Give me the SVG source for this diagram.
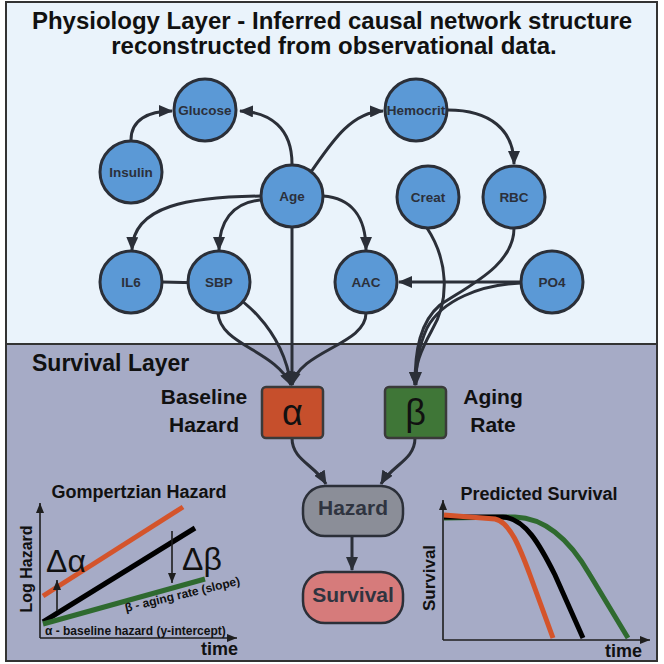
<svg xmlns="http://www.w3.org/2000/svg" width="664" height="664" viewBox="0 0 664 664">
<defs>
<style>
.t{font-family:"Liberation Sans",Arial,sans-serif;font-weight:bold;fill:#111}
.nd circle{fill:#5b99d6;stroke:#2b2f38;stroke-width:3}
.nd text{font-family:"Liberation Sans",Arial,sans-serif;font-weight:bold;font-size:13.5px;fill:#2b303b;text-anchor:middle}
.cn path{fill:none;stroke:#2b2f38;stroke-width:3}
.ax{stroke:#1e1e1e;stroke-width:1.6;fill:none}
.pill text{font-family:"Liberation Sans",Arial,sans-serif;font-weight:bold;font-size:21px;fill:#2f3440;text-anchor:middle}
</style>
<marker id="ah" markerUnits="userSpaceOnUse" markerWidth="14" markerHeight="12" refX="13" refY="6" orient="auto">
<path d="M0,0 L14,6 L0,12 z" fill="#2b2f38"/>
</marker>
<marker id="sa" markerUnits="userSpaceOnUse" markerWidth="10" markerHeight="8" refX="10" refY="4" orient="auto">
<path d="M0,0 L10,4 L0,8 z" fill="#1e1e1e"/>
</marker>
</defs>
<rect x="6" y="2" width="651" height="342" fill="#eaf3fb" stroke="#333" stroke-width="2"/>
<rect x="6" y="344" width="651" height="317" fill="#a6abc6" stroke="#333" stroke-width="2"/>
<text class="t" x="332" y="29" font-size="24" text-anchor="middle">Physiology Layer - Inferred causal network structure</text>
<text class="t" x="334" y="54" font-size="24" text-anchor="middle">reconstructed from observational data.</text>
<text class="t" x="32" y="371" font-size="23">Survival Layer</text>
<g id="connectors" class="cn">
<path d="M131,140 C131,120 148,111 172,111" marker-end="url(#ah)"/>
<path d="M292,164 C292,128 270,112 240,111" marker-end="url(#ah)"/>
<path d="M311,172 C330,145 350,112 383,111" marker-end="url(#ah)"/>
<path d="M448,110 C490,110 514,130 514,164" marker-end="url(#ah)"/>
<path d="M261,196 C190,197 133,205 132,250" marker-end="url(#ah)"/>
<path d="M260,200 C232,203 219,222 219,250" marker-end="url(#ah)"/>
<path d="M323,196 C350,198 366,215 366,250" marker-end="url(#ah)"/>
<path d="M521,282 L399,282" marker-end="url(#ah)"/>
<path d="M162,282 L205,283 C240,290 283,330 291,385" marker-end="url(#ah)"/>
<path d="M218,313 C220,345 275,350 291,385" marker-end="url(#ah)"/>
<path d="M292,227 L292,385" marker-end="url(#ah)"/>
<path d="M366,313 C366,345 300,350 292,385" marker-end="url(#ah)"/>
<path d="M427,228 C448,260 450,300 432,330 C420,352 415,365 415,385" marker-end="url(#ah)"/>
<path d="M514,228 C514,265 470,285 440,305 C420,322 415,350 415,385" marker-end="url(#ah)"/>
<path d="M521,283 C480,285 442,300 427,328 C418,348 416,365 416,385" marker-end="url(#ah)"/>
<path d="M292,438 C292,460 315,465 326,484" marker-end="url(#ah)"/>
<path d="M415,438 C415,460 392,465 381,484" marker-end="url(#ah)"/>
<path d="M352,536 L352,570" marker-end="url(#ah)"/>
</g>
<g id="n-glucose" class="nd"><circle cx="205" cy="110" r="31"/><text x="205" y="115">Glucose</text></g>
<g id="n-hemocrit" class="nd"><circle cx="416" cy="110" r="31"/><text x="416" y="115">Hemocrit</text></g>
<g id="n-insulin" class="nd"><circle cx="131" cy="172" r="31"/><text x="131" y="177">Insulin</text></g>
<g id="n-age" class="nd"><circle cx="292" cy="196" r="31"/><text x="292" y="201">Age</text></g>
<g id="n-creat" class="nd"><circle cx="428" cy="197" r="31"/><text x="428" y="202">Creat</text></g>
<g id="n-rbc" class="nd"><circle cx="514" cy="197" r="31"/><text x="514" y="202">RBC</text></g>
<g id="n-il6" class="nd"><circle cx="131" cy="282" r="31"/><text x="131" y="287">IL6</text></g>
<g id="n-sbp" class="nd"><circle cx="219" cy="282" r="31"/><text x="219" y="287">SBP</text></g>
<g id="n-aac" class="nd"><circle cx="366" cy="282" r="31"/><text x="366" y="287">AAC</text></g>
<g id="n-po4" class="nd"><circle cx="552" cy="282" r="31"/><text x="552" y="287">PO4</text></g>
<g id="n-alpha">
<rect x="262" y="387" width="61" height="51" rx="4" fill="#c64f2c" stroke="#3a3a3a" stroke-width="2.5"/>
<text x="292.5" y="425" font-family="Liberation Sans,Arial,sans-serif" font-size="36" fill="#111" text-anchor="middle">α</text>
<text class="t" x="204" y="404" font-size="21" text-anchor="middle">Baseline</text>
<text class="t" x="204" y="432" font-size="21" text-anchor="middle">Hazard</text>
</g>
<g id="n-beta">
<rect x="385" y="387" width="61" height="51" rx="4" fill="#3f7637" stroke="#3a3a3a" stroke-width="2.5"/>
<text x="415.5" y="425" font-family="Liberation Sans,Arial,sans-serif" font-size="36" fill="#111" text-anchor="middle">β</text>
<text class="t" x="493" y="404" font-size="21" text-anchor="middle">Aging</text>
<text class="t" x="493" y="432" font-size="21" text-anchor="middle">Rate</text>
</g>
<g id="n-hazard" class="pill">
<rect x="303" y="486" width="100" height="50" rx="22" fill="#8b8e98" stroke="#2b2f38" stroke-width="2.5"/>
<text x="353" y="515">Hazard</text>
</g>
<g id="n-survival" class="pill">
<rect x="303" y="572" width="100" height="51" rx="22" fill="#d67b7b" stroke="#2b2f38" stroke-width="2.5"/>
<text x="353" y="602">Survival</text>
</g>
<g id="gompertz">
<text class="t" x="139" y="498" font-size="18" text-anchor="middle">Gompertzian Hazard</text>
<path class="ax" d="M40,638 L40,503" marker-end="url(#sa)"/>
<path class="ax" d="M40,638 L237,638" marker-end="url(#sa)"/>
<text class="t" transform="translate(32,569) rotate(-90)" font-size="16" text-anchor="middle">Log Hazard</text>
<text class="t" x="238" y="655" font-size="18" text-anchor="end">time</text>
<line x1="43" y1="596" x2="183" y2="507" stroke="#d4542b" stroke-width="5"/>
<line x1="43" y1="622" x2="195" y2="528" stroke="#000" stroke-width="5"/>
<line x1="43" y1="624" x2="205" y2="579" stroke="#2f6a2f" stroke-width="5"/>
<text x="46" y="572" font-family="Liberation Sans,Arial,sans-serif" font-size="32" fill="#111">Δα</text>
<text x="182" y="570" font-family="Liberation Sans,Arial,sans-serif" font-size="32" fill="#111">Δβ</text>
<path class="ax" d="M57,611 L57,580" marker-end="url(#sa)"/>
<path class="ax" d="M172,531 L172,583" marker-end="url(#sa)"/>
<text class="t" transform="translate(126,612) rotate(-13.5)" font-size="12">β - aging rate (slope)</text>
<text class="t" x="45" y="635" font-size="12">α - baseline hazard (y-intercept)</text>
</g>
<g id="predicted">
<text class="t" x="539" y="500" font-size="18" text-anchor="middle">Predicted Survival</text>
<path class="ax" d="M443,640 L443,500" marker-end="url(#sa)"/>
<path class="ax" d="M443,640 L650,640" marker-end="url(#sa)"/>
<text class="t" transform="translate(435,578) rotate(-90)" font-size="17" text-anchor="middle">Survival</text>
<text class="t" x="642" y="657" font-size="18" text-anchor="end">time</text>
<path d="M444,518 L515,517 C545,518 570,540 590,575 L628,638" fill="none" stroke="#2f6a2f" stroke-width="5"/>
<path d="M444,517 L503,517 C525,518 540,545 555,575 L583,638" fill="none" stroke="#000" stroke-width="5"/>
<path d="M444,515 L495,519 C510,522 520,548 530,575 L553,638" fill="none" stroke="#d4542b" stroke-width="5"/>
</g>
</svg>
